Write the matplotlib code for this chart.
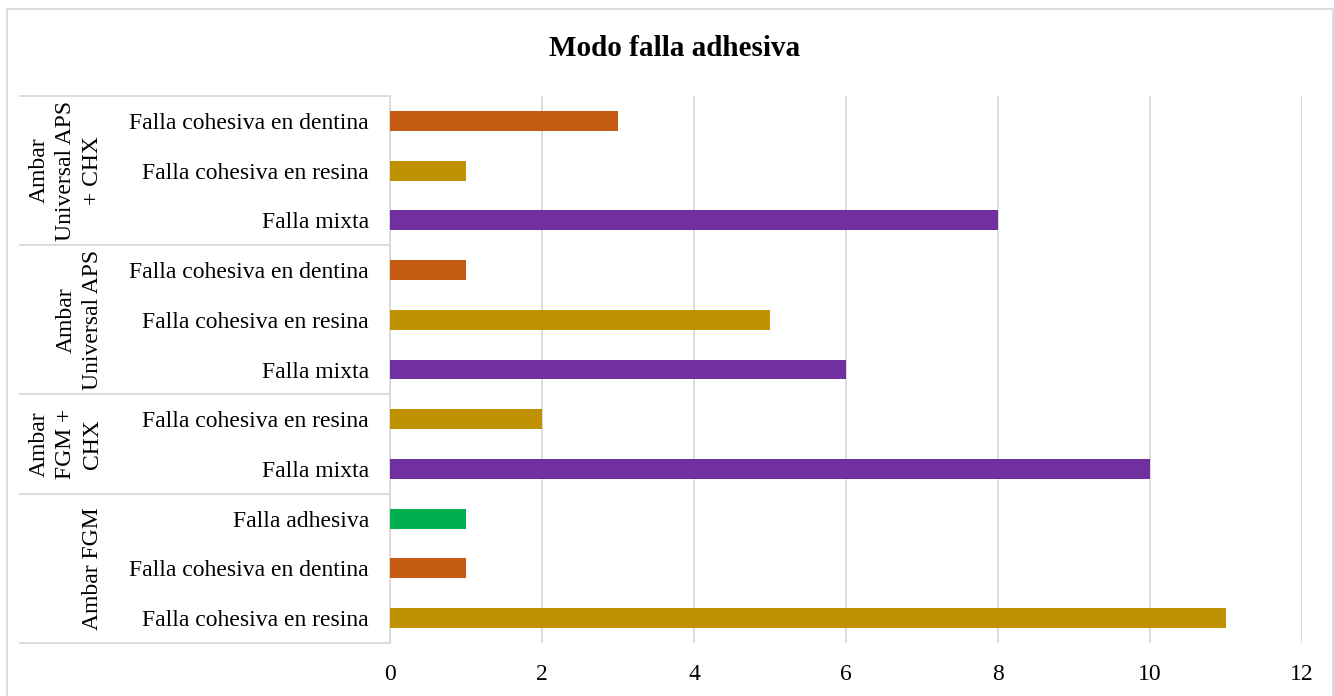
import matplotlib
matplotlib.use("Agg")
import matplotlib.pyplot as plt
from matplotlib.patches import Rectangle
from matplotlib.lines import Line2D

# Data (bottom to top)
categories = ["Falla cohesiva en resina", "Falla cohesiva en dentina", "Falla adhesiva",
              "Falla mixta", "Falla cohesiva en resina",
              "Falla mixta", "Falla cohesiva en resina", "Falla cohesiva en dentina",
              "Falla mixta", "Falla cohesiva en resina", "Falla cohesiva en dentina"]
values = [11, 1, 1, 10, 2, 6, 5, 1, 8, 1, 3]
groups = ["Ambar FGM", "Ambar\nFGM +\nCHX", "Ambar\nUniversal APS", "Ambar\nUniversal APS\n+ CHX"]
group_sizes = [3, 2, 3, 3]
xticks = [0, 2, 4, 6, 8, 10, 12]

color_map = {
    "Falla cohesiva en resina": "#BF9000",
    "Falla cohesiva en dentina": "#C55A11",
    "Falla adhesiva": "#00B050",
    "Falla mixta": "#7030A0",
}

plt.rcParams['font.family'] = ['Liberation Serif', 'DejaVu Serif']

W, H = 1334, 696
fig = plt.figure(figsize=(W / 100, H / 100), dpi=100)

x0, x1 = 390, 1302
y0, y1 = 96, 643
ax = fig.add_axes([x0 / W, 1 - y1 / H, (x1 - x0) / W, (y1 - y0) / H])

FS = 17

n = len(categories)
ypos = list(range(n))
ax.barh(ypos, values, height=0.4, color=[color_map[c] for c in categories],
        edgecolor="none", zorder=3)
ax.set_ylim(-0.5, n - 0.5)
ax.set_xlim(0, 12)
ax.set_xticks(xticks)
ax.set_xticklabels([str(t) for t in xticks], fontsize=FS)
ax.tick_params(axis='x', length=0, pad=15)
ax.set_yticks([])
ax.grid(axis='x', color="#D9D9D9", linewidth=1.3, zorder=0)
for s in ["top", "right", "bottom"]:
    ax.spines[s].set_visible(False)
ax.spines["left"].set_color("#D9D9D9")
ax.spines["left"].set_linewidth(1.3)

# Category labels
for y, c in zip(ypos, categories):
    ax.text(-21 / 76, y, c, ha="right", va="center_baseline", fontsize=FS)

# Group separators and labels
trans = ax.get_yaxis_transform()
boundaries = [-0.5]
acc = -0.5
for s in group_sizes:
    acc += s
    boundaries.append(acc)
sep_x0 = (20 - x0) / (x1 - x0)
for b in boundaries:
    ax.add_line(Line2D([sep_x0, 0], [b, b], transform=trans, color="#D9D9D9",
                       linewidth=1.3, clip_on=False))
label_x = (103 - x0) / (x1 - x0)
for i, g in enumerate(groups):
    yc = (boundaries[i] + boundaries[i + 1]) / 2
    ax.text(label_x, yc, g, rotation=90, ha="right", va="center",
            multialignment="center", fontsize=FS, transform=trans, clip_on=False,
            linespacing=1.35)

# Title
fig.text(675 / W, 1 - 49 / H, "Modo falla adhesiva", ha="center", va="center",
         fontsize=21, fontweight="bold")

# Outer border
fig.patches.append(Rectangle((7 / W, -0.01), (1333 - 7) / W, (H - 9) / H + 0.01,
                             transform=fig.transFigure, fill=False,
                             edgecolor="#D9D9D9", linewidth=1.3))

fig.savefig("out.png", dpi=100)
